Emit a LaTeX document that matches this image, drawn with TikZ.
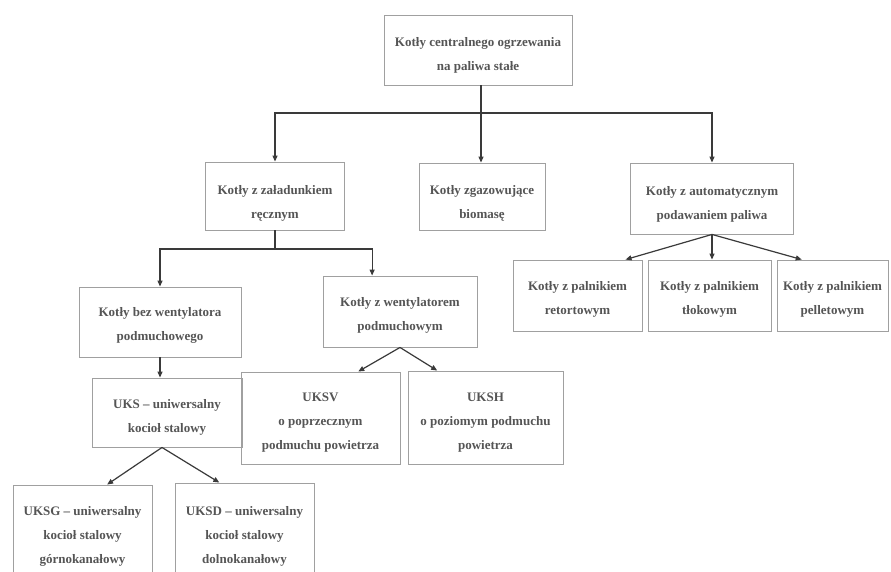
\documentclass[tikz,border=0pt]{standalone}
\usepackage{fontspec}
\setmainfont{Liberation Serif}
\usetikzlibrary{arrows.meta,calc}
\definecolor{txtc}{HTML}{555555}
\definecolor{edgec}{HTML}{A0A0A0}
\definecolor{arrc}{HTML}{3A3A3A}
\tikzset{
  x=1pt, y=-1pt,
  boxshape/.style={draw=edgec, line width=0.9pt, inner sep=0pt, rectangle},
  lbl/.style={font=\bfseries\fontsize{13}{24}\selectfont, text=txtc, align=center, inner sep=0pt},
  conn/.style={draw=arrc, line width=1.2pt, line join=miter},
  arrconn/.style={conn, -{Triangle[length=6pt,width=5pt]}},
}
\newcommand{\mybox}[7]{%
  \node[boxshape, minimum width=#4pt, minimum height=#5pt] (#1) at (#2,#3) {};
  \node[lbl] (#1-t) at ($(#1.center)+(0,#6)$) {#7};
}
\begin{document}
\begin{tikzpicture}
\useasboundingbox (0,0) rectangle (891,572);
\clip (0,0) rectangle (891,572);
\fill[white] (0,0) rectangle (891,572);

\mybox{top}{478}{50}{188}{70}{5.5}{Kotły centralnego ogrzewania\\na paliwa stałe}
\mybox{load}{275}{196}{139}{68}{7.5}{Kotły z załadunkiem\\ręcznym}
\mybox{bio}{482}{196.5}{126}{67}{6.5}{Kotły zgazowujące\\biomasę}
\mybox{auto}{712}{198.5}{163}{71}{5.5}{Kotły z automatycznym\\podawaniem paliwa}
\mybox{bez}{160}{322}{162}{70}{3.5}{Kotły bez wentylatora\\podmuchowego}
\mybox{went}{400}{311.5}{154}{71}{3.5}{Kotły z wentylatorem\\podmuchowym}
\mybox{retort}{577.5}{295.5}{129}{71}{4}{Kotły z palnikiem\\retortowym}
\mybox{tlok}{709.5}{295.5}{123}{71}{4}{Kotły z palnikiem\\tłokowym}
\mybox{pellet}{832.5}{295.5}{111}{71}{4}{Kotły z palnikiem\\pelletowym}
\mybox{uks}{167}{412.5}{150}{69}{4.5}{UKS -- uniwersalny\\kocioł stalowy}
\mybox{uksv}{320.5}{418}{159}{92}{5}{UKSV\\o poprzecznym\\podmuchu powietrza}
\mybox{uksh}{485.5}{417.5}{155}{93}{5.5}{UKSH\\o poziomym podmuchu\\powietrza}
\mybox{uksg}{82.5}{532}{139}{94}{4.5}{UKSG -- uniwersalny\\kocioł stalowy\\górnokanałowy}
\mybox{uksd}{244.5}{531}{139}{96}{5.5}{UKSD -- uniwersalny\\kocioł stalowy\\dolnokanałowy}

% level 1
\coordinate (j1) at (481,113);
\draw[conn] (top.south -| j1) -- (j1);
\draw[arrconn] (j1) -| (load.north);
\draw[arrconn] (j1) -- (j1 |- bio.north);
\draw[arrconn] (j1) -| (auto.north);

% from load
\coordinate (j2) at (275,249);
\coordinate (wentin) at ($(went.north west)!0.32!(went.north east)$);
\draw[conn] (load.south) -- (load.south |- j2);
\draw[arrconn] (load.south |- j2) -| (bez.north);
\draw[arrconn] (load.south |- j2) -| (wentin);

% bez -> uks
\draw[arrconn] (bez.south) -- (bez.south |- uks.north);

% went -> uksv, uksh
\draw[arrconn] (went.south) -- ($(uksv.north west)!0.736!(uksv.north east)$);
\draw[arrconn] (went.south) -- ($(uksh.north west)!0.19!(uksh.north east)$);

% uks -> uksg, uksd
\coordinate (uksout) at ($(uks.south)+(-5,0)$);
\draw[arrconn] (uksout) -- ($(uksg.north west)!0.676!(uksg.north east)$);
\draw[arrconn] (uksout) -- ($(uksd.north west)!0.32!(uksd.north east)$);

% auto -> burners
\draw[arrconn] (auto.south) -- ($(retort.north west)!0.87!(retort.north east)$);
\draw[arrconn] (auto.south) -- (auto.south |- tlok.north);
\draw[arrconn] (auto.south) -- ($(pellet.north west)!0.225!(pellet.north east)$);
\end{tikzpicture}
\end{document}
